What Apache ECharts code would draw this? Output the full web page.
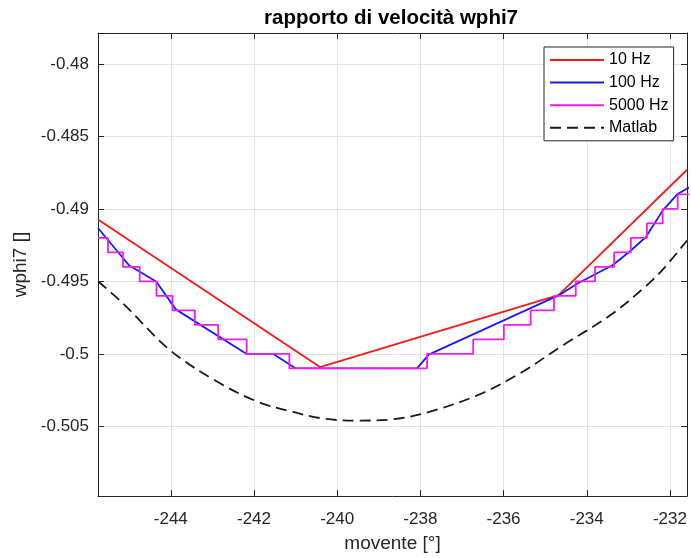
<!DOCTYPE html>
<html>
<head>
<meta charset="utf-8">
<title>rapporto di velocità wphi7</title>
<script src="https://cdn.jsdelivr.net/npm/echarts@6/dist/echarts.min.js"></script>
<style>
  html, body { margin: 0; padding: 0; background: #fff; }
  #chart { width: 691px; height: 558px; }
</style>
</head>
<body>
<div id="chart"></div>
<script>
// Axis ticks
const xTicks = [-244, -242, -240, -238, -236, -234, -232];
const yTicks = [-0.505, -0.5, -0.495, -0.49, -0.485, -0.48];

// 10 Hz: piecewise linear
const x10 = [-245.75, -240.414, -234.679, -231.589];
const y10 = [-0.49073, -0.50091, -0.49595, -0.4873];

// 100 Hz: linear between samples
const x100 = [-245.75, -245.005, -244.345, -243.88, -242.176, -241.535, -241.012, -238.08, -237.8,
              -234.667, -234.224, -233.381, -232.981, -232.578, -232.176, -231.815, -231.535];
const y100 = [-0.49132, -0.49389, -0.49503, -0.49693, -0.5, -0.5, -0.50098, -0.501, -0.50005,
              -0.49595, -0.49515, -0.49389, -0.49297, -0.49194, -0.49012, -0.48897, -0.48851];

// 5000 Hz: held levels, each starting at the given position
const x5000 = [-245.75, -245.511, -245.149, -244.747, -244.345, -243.959, -243.422, -242.86, -242.176,
               -241.149, -237.839, -236.73, -235.993, -235.349, -234.788, -234.265, -233.8, -233.342,
               -232.94, -232.554, -232.176, -231.814, -231.5];
const y5000 = [-0.492, -0.493, -0.494, -0.495, -0.496, -0.497, -0.498, -0.499, -0.5,
               -0.501, -0.5, -0.499, -0.498, -0.497, -0.496, -0.495, -0.494, -0.493,
               -0.492, -0.491, -0.49, -0.489, -0.489];

// Matlab reference curve
const xMat = [-245.75, -245.148, -244.024, -242.9, -241.937, -241.136, -240.334, -239.531, -238.729,
              -237.767, -236.563, -235.6, -234.558, -233.427, -232.551, -232.152, -231.589];
const yMat = [-0.49499, -0.49652, -0.49973, -0.50189, -0.50327, -0.50395, -0.50446, -0.5046, -0.50453,
              -0.50398, -0.50277, -0.50133, -0.49938, -0.49732, -0.49526, -0.49412, -0.49218];

const pairs = (xs, ys) => xs.map((x, i) => [x, ys[i]]);

const FONT = 'Liberation Sans, Arial, Helvetica, sans-serif';
const AXIS_COLOR = '#262626';
const GRID_COLOR = '#e3e3e3';
const X_MIN = -245.75, X_MAX = -231.59;
const Y_MIN = -0.5098, Y_MAX = -0.47787;

const fmt = v => String(parseFloat(Number(v).toFixed(4)));

function makeX(position, main) {
  return {
    type: 'value', position: position, min: X_MIN, max: X_MAX,
    axisLine: { show: true, onZero: false, lineStyle: { color: AXIS_COLOR, width: 1 } },
    axisTick: { show: true, inside: true, length: 6, customValues: xTicks,
                lineStyle: { color: AXIS_COLOR, width: 1 } },
    axisLabel: { show: main, customValues: xTicks, formatter: fmt, fontSize: 17, fontFamily: FONT,
                 color: AXIS_COLOR, margin: 15 },
    splitLine: { show: main, lineStyle: { color: GRID_COLOR, width: 1 } },
    name: main ? 'movente [°]' : '', nameLocation: 'middle', nameGap: 38,
    nameTextStyle: { fontSize: 19, fontFamily: FONT, color: AXIS_COLOR }
  };
}

function makeY(position, main) {
  return {
    type: 'value', position: position, min: Y_MIN, max: Y_MAX,
    axisLine: { show: true, onZero: false, lineStyle: { color: AXIS_COLOR, width: 1 } },
    axisTick: { show: true, inside: true, length: 6, customValues: yTicks,
                lineStyle: { color: AXIS_COLOR, width: 1 } },
    axisLabel: { show: main, customValues: yTicks, formatter: fmt, fontSize: 17, fontFamily: FONT,
                 color: AXIS_COLOR, margin: 9 },
    splitLine: { show: main, lineStyle: { color: GRID_COLOR, width: 1 } },
    name: main ? 'wphi7 []' : '', nameLocation: 'middle', nameGap: 56, nameRotate: 90,
    nameTextStyle: { fontSize: 19, fontFamily: FONT, color: AXIS_COLOR }
  };
}

const lineSeries = (name, data, color, extra) => Object.assign({
  name: name, type: 'line', data: data, showSymbol: false, symbol: 'none',
  xAxisIndex: 0, yAxisIndex: 0,
  lineStyle: { color: color, width: 1.8 }, itemStyle: { color: color },
  emphasis: { disabled: true }
}, extra || {});

const chart = echarts.init(document.getElementById('chart'), null, { renderer: 'canvas' });
chart.setOption({
  animation: false,
  backgroundColor: '#ffffff',
  title: {
    text: 'rapporto di velocità wphi7',
    left: 391, top: 8, textAlign: 'center', padding: 0,
    textStyle: { fontSize: 20.5, fontWeight: 'bold', fontFamily: FONT, color: '#000' }
  },
  grid: { left: 98, right: 4, top: 33, bottom: 60 },
  xAxis: [makeX('bottom', true), makeX('top', false)],
  yAxis: [makeY('left', true), makeY('right', false)],
  legend: {
    orient: 'vertical', left: 544, top: 47,
    padding: [5, 5, 5, 5], itemWidth: 54, itemHeight: 14, itemGap: 6.6,
    backgroundColor: '#ffffff', borderColor: AXIS_COLOR, borderWidth: 1, borderRadius: 0,
    itemStyle: { color: 'rgba(0,0,0,0)', borderWidth: 0, opacity: 0 },
    textStyle: { fontSize: 16, fontFamily: FONT, color: '#000', lineHeight: 16 },
    data: ['10 Hz', '100 Hz', '5000 Hz', 'Matlab']
  },
  series: [
    lineSeries('10 Hz', pairs(x10, y10), '#f21b1b'),
    lineSeries('100 Hz', pairs(x100, y100), '#1b1bf2'),
    lineSeries('5000 Hz', pairs(x5000, y5000), '#f21bf2', { step: 'end' }),
    lineSeries('Matlab', pairs(xMat, yMat), '#1a1a1a', {
      smooth: 0.35,
      lineStyle: { color: '#1a1a1a', width: 1.8, type: [11, 6] }
    })
  ]
});
</script>
</body>
</html>
